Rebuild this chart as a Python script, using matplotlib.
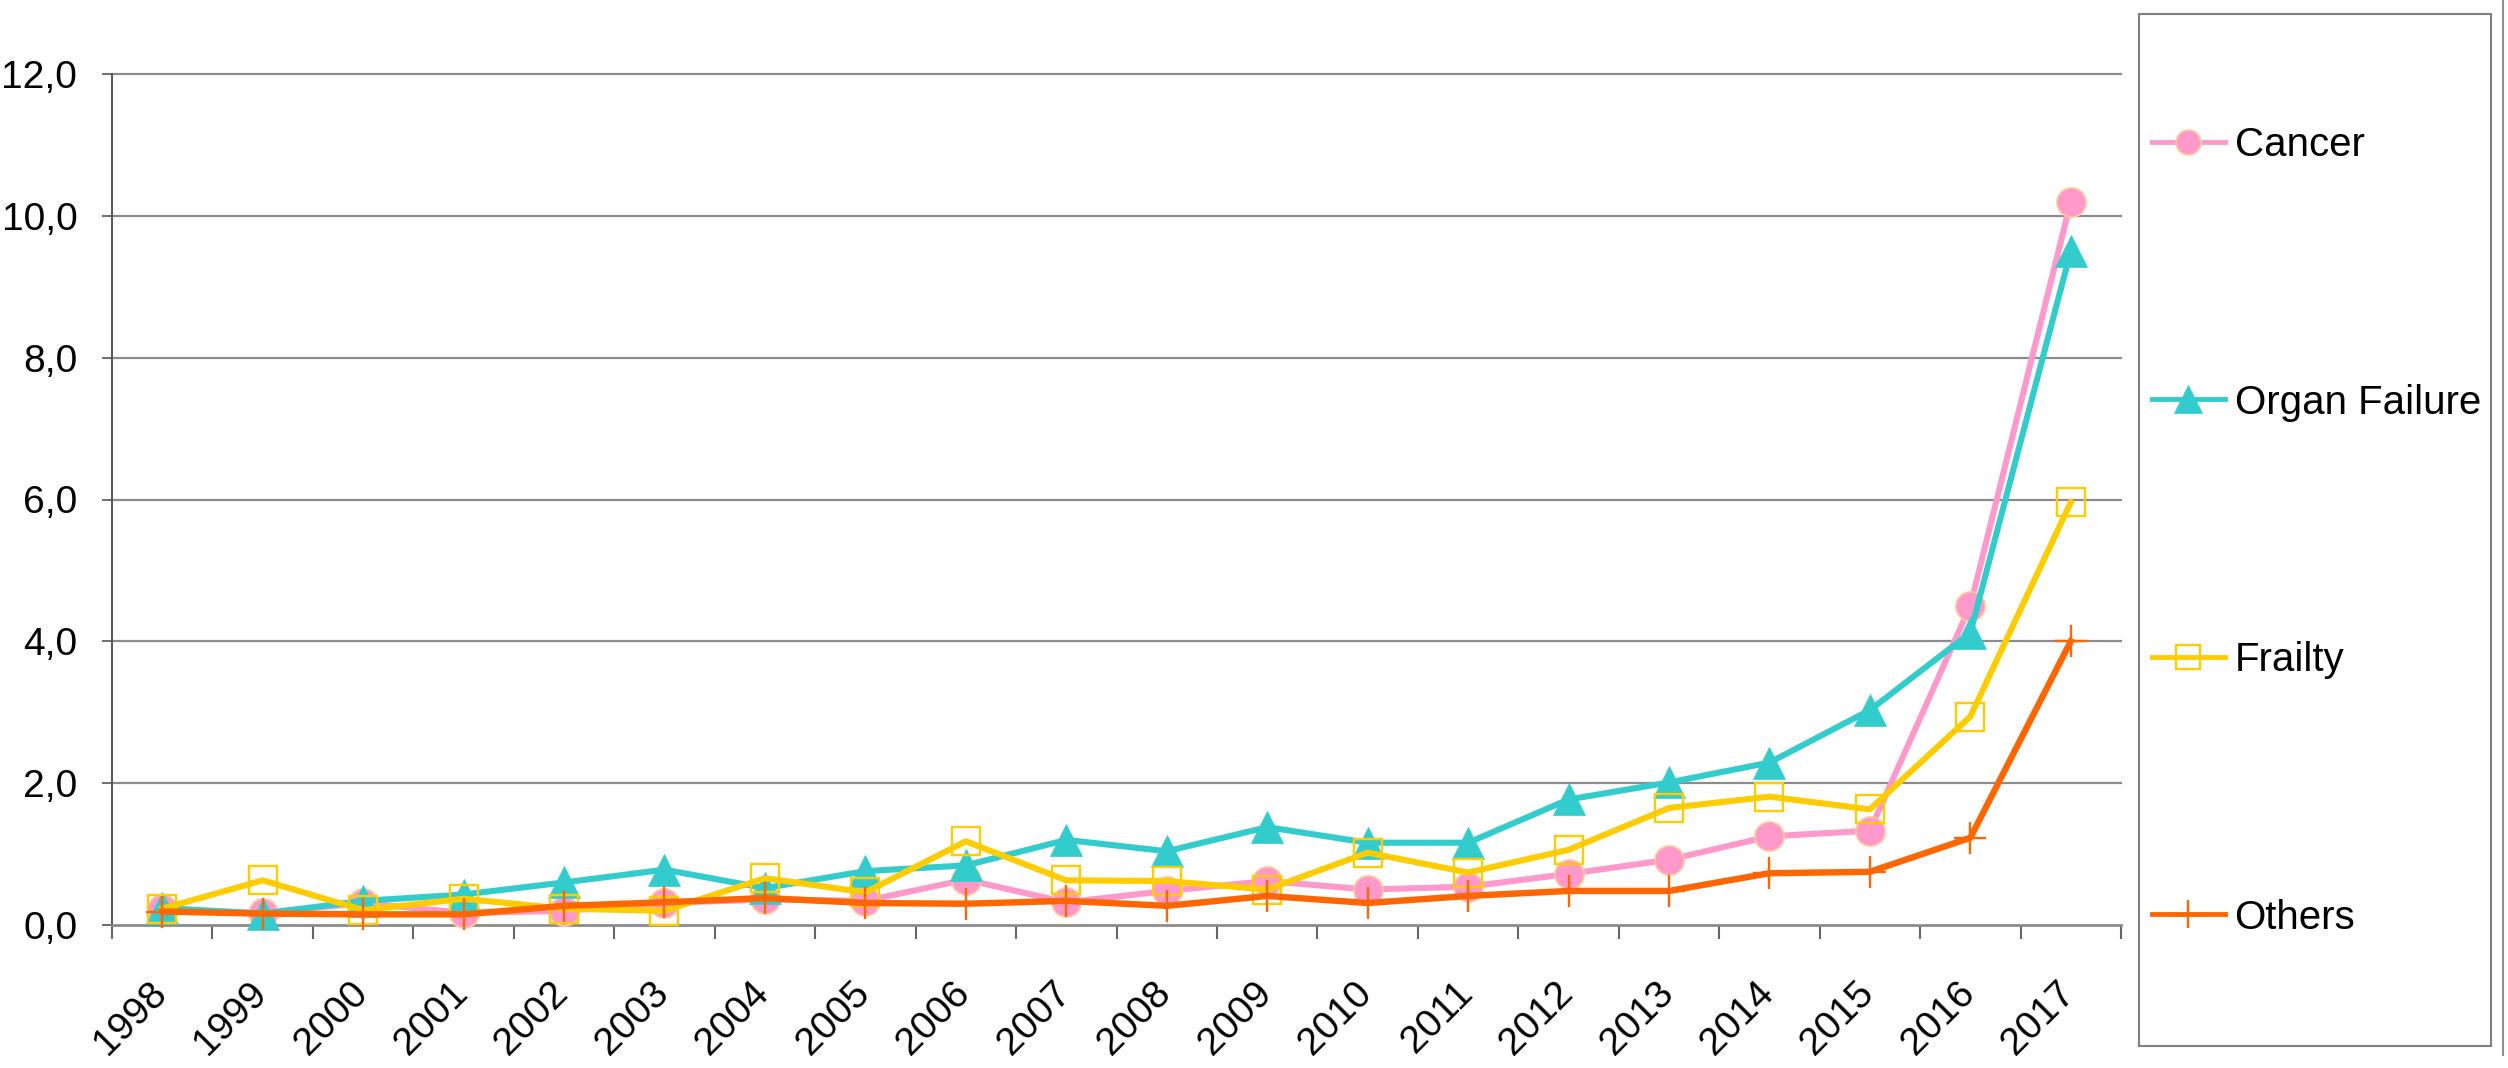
import numpy as np
import matplotlib
matplotlib.use("Agg")
import matplotlib.pyplot as plt
from matplotlib.patches import Rectangle
from matplotlib.lines import Line2D
from matplotlib.transforms import ScaledTranslation

plt.rcParams['font.family'] = ['Liberation Sans', 'DejaVu Sans']

years = [str(y) for y in range(1998, 2018)]
cancer = [0.22, 0.17, 0.31, 0.17, 0.2, 0.31, 0.36, 0.34, 0.64, 0.32, 0.48, 0.62,
          0.5, 0.54, 0.72, 0.92, 1.25, 1.33, 4.5, 10.2]
organ = [0.24, 0.16, 0.34, 0.43, 0.6, 0.78, 0.52, 0.76, 0.84, 1.2, 1.04, 1.38,
         1.16, 1.16, 1.77, 2.01, 2.29, 3.03, 4.12, 9.5]
frailty = [0.23, 0.63, 0.21, 0.37, 0.23, 0.2, 0.66, 0.46, 1.18, 0.63, 0.62, 0.5,
           1.02, 0.74, 1.06, 1.65, 1.81, 1.63, 2.94, 5.96]
others = [0.19, 0.16, 0.15, 0.15, 0.27, 0.32, 0.38, 0.31, 0.3, 0.34, 0.27, 0.41,
          0.31, 0.41, 0.48, 0.48, 0.73, 0.75, 1.23, 4.0]
series_names = ['Cancer', 'Organ Failure', 'Frailty', 'Others']
ytick_vals = [0, 2, 4, 6, 8, 10, 12]
ytick_labels = ['0,0', '2,0', '4,0', '6,0', '8,0', '10,0', '12,0']

W, H = 2508, 1068
fig = plt.figure(figsize=(W / 100, H / 100), dpi=100)
ax = fig.add_axes([112 / W, 1 - 925 / H, (2121 - 112) / W, (925 - 74) / H])

x = np.arange(len(years))
grid_c = '#8c8c8c'
for yv in ytick_vals[1:]:
    ax.axhline(yv, color=grid_c, lw=1.6, zorder=1, clip_on=False)

l1, = ax.plot(x, cancer, color='#ff99cc', lw=4.4, marker='o', ms=21,
              mfc='#ff99cc', mec='#ffcc99', mew=1.2, zorder=3, clip_on=False)
l2, = ax.plot(x, organ, color='#33cccc', lw=4.4, marker='^', ms=23,
              mfc='#33cccc', mec='#33cccc', mew=0.5, zorder=4, clip_on=False)
l3, = ax.plot(x, frailty, color='#ffcc00', lw=4.4, marker='s', ms=20,
              mfc='none', mec='#ffcc00', mew=1.7, zorder=5, clip_on=False)
l4, = ax.plot(x, others, color='#ff6600', lw=4.6, marker='+', ms=23,
              mec='#ff6600', mew=1.7, zorder=6, clip_on=False)

ax.set_xlim(-0.5, len(years) - 0.5)
ax.set_ylim(0, 12)
ax.set_yticks(ytick_vals, labels=ytick_labels)
ax.tick_params(axis='y', labelsize=28, length=7, width=1.2, color='#555555', pad=18)

ax.set_xticks(np.arange(-0.5, len(years), 1))
ax.set_xticklabels([])
ax.tick_params(axis='x', which='major', length=10, width=1.5, color='#666666')
ax.set_xticks(x, labels=years, minor=True)
ax.tick_params(axis='x', which='minor', length=0, pad=36, labelsize=28)
shift = ScaledTranslation(-14 / 100, 0, fig.dpi_scale_trans)
for lab in ax.get_xticklabels(minor=True):
    lab.set_rotation(45)
    lab.set_ha('right')
    lab.set_va('top')
    lab.set_rotation_mode('anchor')
    lab.set_transform(lab.get_transform() + shift)

for s in ['top', 'right']:
    ax.spines[s].set_visible(False)
ax.spines['left'].set_color('#555555')
ax.spines['left'].set_linewidth(1.4)
ax.spines['bottom'].set_color(grid_c)
ax.spines['bottom'].set_linewidth(2.0)

# legend frame and outer right border
fig.patches.append(Rectangle((2139 / W, 1 - 1046 / H), (2491 - 2139) / W, (1046 - 14) / H,
                             transform=fig.transFigure, fill=False,
                             edgecolor='#808080', lw=1.5))
fig.lines.append(Line2D([2503 / W, 2503 / W], [1.0, 1 - 1055 / H],
                        transform=fig.transFigure, color='#909090', lw=1.5))
leg = fig.legend([l1, l2, l3, l4], series_names, loc='upper left',
                 bbox_to_anchor=(2152 / W, 1 - 126 / H), frameon=False,
                 fontsize=29, labelspacing=5.45, handlelength=1.8,
                 handletextpad=0.25, borderpad=0, borderaxespad=0,
                 markerscale=0.85)
for h in leg.legend_handles:
    h.set_linewidth(3.5)

fig.savefig('out.png', dpi=100)
